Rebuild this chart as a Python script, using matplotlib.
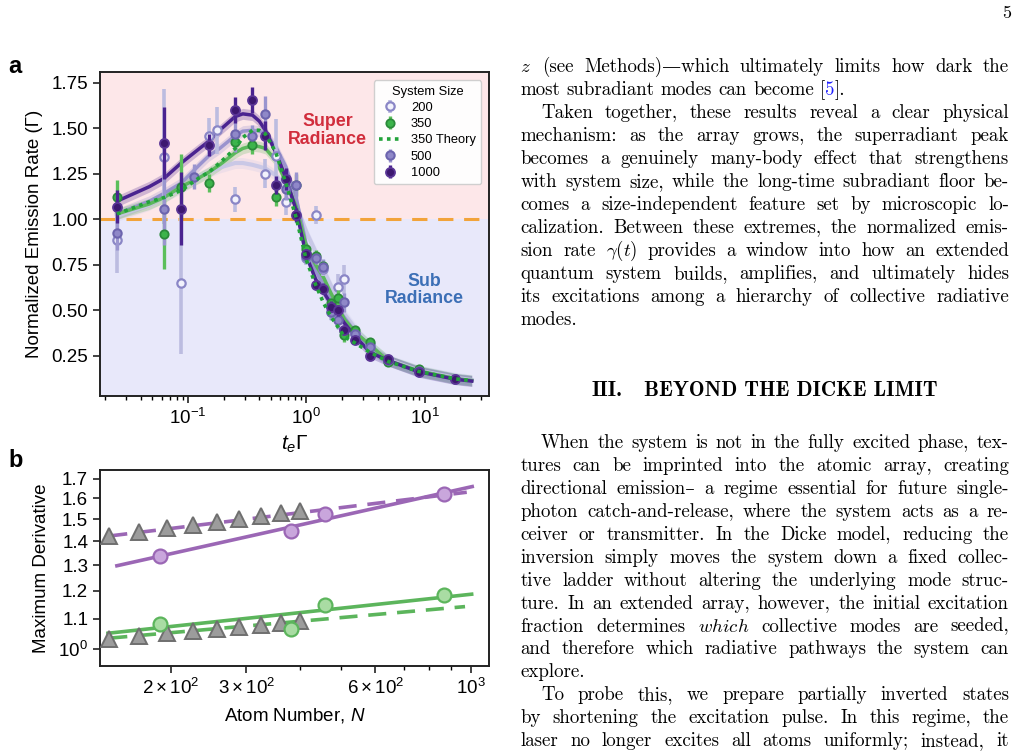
import re
import numpy as np
import matplotlib
matplotlib.use('Agg')
import matplotlib.pyplot as plt
from matplotlib.ticker import FixedLocator, FixedFormatter, NullLocator, NullFormatter

plt.rcParams['font.family'] = ['Liberation Sans', 'DejaVu Sans']
plt.rcParams['mathtext.fontset'] = 'custom'
plt.rcParams['mathtext.rm'] = 'Liberation Sans'
plt.rcParams['mathtext.it'] = 'Liberation Sans:italic'
plt.rcParams['mathtext.bf'] = 'Liberation Sans:bold'

W, H = 1016, 755

# ---------------- panel a data ----------------
t_200 = [0.025, 0.0625, 0.0875, 0.15, 0.175, 0.25, 0.45, 0.55, 0.67, 1.0, 1.2, 1.38,
         1.62, 1.86, 2.1, 2.6, 3.45, 4.9, 8.9]
v_200 = [0.885, 1.345, 0.65, 1.46, 1.49, 1.11, 1.25, 1.35, 1.095, 0.79, 1.024, 0.73,
         0.49, 0.63, 0.672, 0.377, 0.318, 0.225, 0.17]
e_200 = [0.18, 0.37, 0.39, 0.10, 0.13, 0.07, 0.08, 0.2, 0.07, 0.04, 0.05, 0.04,
         0.04, 0.07, 0.08, 0.03, 0.03, 0.01, 0.01]

t_350 = [0.025, 0.0625, 0.0875, 0.15, 0.25, 0.35, 0.55, 0.82, 1.0, 1.2, 1.38, 1.62,
         1.86, 2.1, 2.6, 3.45, 4.9, 8.9]
v_350 = [1.125, 0.92, 1.18, 1.20, 1.425, 1.41, 1.125, 1.19, 0.84, 0.80, 0.745, 0.54,
         0.57, 0.365, 0.39, 0.327, 0.218, 0.176]
e_350 = [0.09, 0.19, 0.18, 0.05, 0.05, 0.05, 0.05, 0.06, 0.03, 0.03, 0.03, 0.03,
         0.04, 0.04, 0.02, 0.02, 0.01, 0.01]

t_500 = [0.025, 0.0625, 0.112, 0.25, 0.35, 0.45, 0.67, 0.82, 1.0, 1.2, 1.38, 1.62,
         1.86, 2.1, 2.6, 3.45, 4.9, 8.9, 18.2]
v_500 = [0.923, 1.06, 1.235, 1.47, 1.46, 1.58, 1.165, 1.19, 0.80, 0.786, 0.74, 0.49,
         0.45, 0.544, 0.37, 0.30, 0.228, 0.168, 0.125]
e_500 = [0.09, 0.2, 0.07, 0.1, 0.06, 0.1, 0.06, 0.07, 0.03, 0.03, 0.04, 0.04,
         0.05, 0.05, 0.02, 0.02, 0.01, 0.01, 0.01]

t_1000 = [0.025, 0.0625, 0.0875, 0.15, 0.25, 0.35, 0.45, 0.55, 0.67, 0.82, 1.0, 1.2,
          1.38, 1.62, 1.86, 2.1, 2.6, 3.45, 4.9, 8.9, 18.2]
v_1000 = [1.07, 1.42, 1.06, 1.41, 1.60, 1.655, 1.46, 1.19, 1.22, 1.025, 0.81, 0.64,
          0.62, 0.52, 0.50, 0.395, 0.337, 0.25, 0.236, 0.163, 0.122]
e_1000 = [0.09, 0.2, 0.2, 0.06, 0.07, 0.07, 0.08, 0.05, 0.06, 0.04, 0.03, 0.03,
          0.03, 0.03, 0.03, 0.02, 0.02, 0.01, 0.01, 0.01, 0.01]

# fitted curves
fit_t = [0.025, 0.047, 0.0625, 0.0875, 0.125, 0.15, 0.185, 0.25, 0.29, 0.35, 0.40, 0.45,
         0.55, 0.67, 0.82, 1.0, 1.2, 1.4, 1.6, 2.1, 2.6, 3.45, 4.9, 8.9, 18.2, 25]
fit_1000 = [1.10, 1.18, 1.225, 1.31, 1.39, 1.43, 1.49, 1.565, 1.58, 1.573, 1.54, 1.49,
            1.37, 1.23, 1.05, 0.80, 0.67, 0.60, 0.54, 0.43, 0.355, 0.27, 0.225, 0.163, 0.122, 0.112]
fit_500 = [1.03, 1.10, 1.143, 1.20, 1.30, 1.35, 1.39, 1.46, 1.485, 1.49, 1.485, 1.47,
           1.40, 1.29, 1.12, 0.86, 0.72, 0.64, 0.57, 0.46, 0.38, 0.29, 0.225, 0.165, 0.125, 0.115]
fit_200 = [1.02, 1.08, 1.124, 1.17, 1.235, 1.26, 1.285, 1.31, 1.31, 1.30, 1.29, 1.28,
           1.243, 1.18, 1.08, 0.93, 0.82, 0.72, 0.64, 0.48, 0.40, 0.30, 0.23, 0.17, 0.13, 0.118]
fit_350 = [1.03, 1.085, 1.12, 1.18, 1.23, 1.26, 1.30, 1.366, 1.39, 1.405, 1.40, 1.39,
           1.326, 1.21, 1.07, 0.85, 0.75, 0.68, 0.60, 0.45, 0.38, 0.31, 0.225, 0.168, 0.125, 0.115]
theory_350 = [1.03, 1.097, 1.12, 1.16, 1.23, 1.26, 1.31, 1.39, 1.45, 1.49, 1.49, 1.47,
              1.37, 1.20, 1.01, 0.776, 0.64, 0.54, 0.47, 0.355, 0.32, 0.27, 0.22, 0.165, 0.124, 0.114]
band_hw = 0.03

# ---------------- panel b data ----------------
N_meas = [189, 381, 459, 867]
purple_meas = [1.335, 1.446, 1.523, 1.62]
green_meas = [1.081, 1.064, 1.146, 1.184]
N_sim = [144, 169, 196, 225, 256, 289, 324, 361, 400]
purple_sim = [1.423, 1.442, 1.458, 1.473, 1.488, 1.501, 1.516, 1.528, 1.54]
green_sim = [1.033, 1.042, 1.051, 1.059, 1.064, 1.071, 1.079, 1.084, 1.092]
N_fit_solid_p = [150, 1008]
purple_fit_solid = [1.297, 1.66]
N_fit_dash_p = [144, 979]
purple_fit_dash = [1.423, 1.631]
N_fit_solid_g = [143, 1005]
green_fit_solid = [1.051, 1.187]
N_fit_dash_g = [144, 970]
green_fit_dash = [1.035, 1.142]

fig = plt.figure(figsize=(W / 100, H / 100), dpi=100)


def px_axes(l, t, r, b):
    return fig.add_axes([l / W, 1 - b / H, (r - l) / W, (b - t) / H])


# ================= panel a =================
ax = px_axes(100, 72, 489, 396)
ax.set_xscale('log')
ax.set_xlim(0.018, 35)
ax.set_ylim(0.03, 1.81)
ax.axhspan(1.0, 1.81, color='#fde7e9', zorder=0, lw=0)
ax.axhspan(0.03, 1.0, color='#e8e8fa', zorder=0, lw=0)
ax.axhline(1.0, color='#f2a33a', lw=2.2, dashes=(5, 3.5), zorder=1.5)

c200, c500, c1000 = '#c6c6e6', '#928dcc', '#4a2390'
c350 = '#5bb85c'

for vals, col, lw, a in [(fit_200, c200, 3, 0.9), (fit_500, c500, 2.5, 0.9),
                         (fit_350, c350, 2.5, 1.0), (fit_1000, c1000, 2.5, 1.0)]:
    v = np.array(vals)
    ax.fill_between(fit_t, v - band_hw, v + band_hw, color=col, alpha=0.25, lw=0, zorder=2)
    ax.plot(fit_t, v, color=col, lw=lw, alpha=a, zorder=2.2)

h200 = ax.errorbar(t_200, v_200, yerr=e_200, fmt='o', ms=6, mfc='#f2f2fc', mec='#8a86c6',
                   mew=1.6, ecolor='#bcbce0', elinewidth=2.6, capsize=0, zorder=3)
h350 = ax.errorbar(t_350, v_350, yerr=e_350, fmt='o', ms=6, mfc='#3cb44b', mec='#2b8a3a',
                   mew=1.3, ecolor='#5bbf5b', elinewidth=2.4, capsize=0, zorder=3.2)
h500 = ax.errorbar(t_500, v_500, yerr=e_500, fmt='o', ms=6, mfc='#8f88c8', mec='#6c64ae',
                   mew=1.5, ecolor='#9a95cf', elinewidth=2.4, capsize=0, zorder=3.3)
h1000 = ax.errorbar(t_1000, v_1000, yerr=e_1000, fmt='o', ms=6.5, mfc='#3d1870', mec='#5a3596',
                    mew=1.3, ecolor='#4a2390', elinewidth=2.4, capsize=0, zorder=3.4)
hth, = ax.plot(fit_t, theory_350, color='#22a33a', lw=2.6, ls=(0, (1, 1.2)), zorder=3.5)

ax.text(0.585, 0.819, 'Super\nRadiance', transform=ax.transAxes, ha='center', va='center',
        color='#d12d3c', fontsize=12.8, fontweight='bold', linespacing=1.05)
ax.text(0.835, 0.327, 'Sub\nRadiance', transform=ax.transAxes, ha='center', va='center',
        color='#3c6fb6', fontsize=12.8, fontweight='bold', linespacing=1.05)

leg = ax.legend([h200, h350, hth, h500, h1000], ['200', '350', '350 Theory', '500', '1000'],
                title='System Size', loc='upper right', bbox_to_anchor=(0.997, 0.995),
                fontsize=9.3, title_fontsize=9.3, labelspacing=0.33, handlelength=1.6,
                handletextpad=0.85, borderpad=0.42, framealpha=0.92, edgecolor='#cccccc')
leg.set_zorder(5)

ax.set_yticks([0.25, 0.5, 0.75, 1.0, 1.25, 1.5, 1.75])
ax.set_yticklabels(['0.25', '0.50', '0.75', '1.00', '1.25', '1.50', '1.75'])
ax.tick_params(labelsize=13.5, length=5, width=1.2, colors='#222222', labelcolor='black')
ax.tick_params(which='minor', length=3, width=1)
for s in ax.spines.values():
    s.set_linewidth(1.4)
    s.set_color('#222222')
ax.set_ylabel('Normalized Emission Rate (Γ)', fontsize=13.5, labelpad=6)
ax.set_xlabel(r'$t_e\Gamma$', fontsize=15, labelpad=4)

# ================= panel b =================
bx = px_axes(100, 470, 489, 666)
bx.set_xscale('log')
bx.set_yscale('log')
bx.set_xlim(137, 1103)
bx.set_ylim(0.949, 1.748)
purple, green = '#9b67b5', '#5cb55c'
bx.plot(N_fit_dash_p, purple_fit_dash, color=purple, lw=2.6, dashes=(5, 3), zorder=2)
bx.plot(N_fit_solid_p, purple_fit_solid, color=purple, lw=2.6, zorder=2)
bx.plot(N_fit_dash_g, green_fit_dash, color=green, lw=2.6, dashes=(5, 3), zorder=2)
bx.plot(N_fit_solid_g, green_fit_solid, color=green, lw=2.6, zorder=2)
bx.plot(N_sim, purple_sim, '^', ms=11, mfc='#9c9c9c', mec='#6f6f6f', mew=1.4, zorder=3)
bx.plot(N_sim, green_sim, '^', ms=11, mfc='#9c9c9c', mec='#6f6f6f', mew=1.4, zorder=3)
bx.plot(N_meas, purple_meas, 'o', ms=10, mfc='#c9a6dc', mec=purple, mew=1.6, zorder=4)
bx.plot(N_meas, green_meas, 'o', ms=10, mfc='#a9dca3', mec=green, mew=1.6, zorder=4)

bx.xaxis.set_major_locator(FixedLocator([200, 300, 600, 1000]))
bx.xaxis.set_major_formatter(FixedFormatter([r'$2\times10^2$', r'$3\times10^2$',
                                             r'$6\times10^2$', r'$10^3$']))
bx.xaxis.set_minor_locator(FixedLocator([400, 500, 700, 800, 900]))
bx.xaxis.set_minor_formatter(NullFormatter())
bx.yaxis.set_major_locator(FixedLocator([1.0, 1.1, 1.2, 1.3, 1.4, 1.5, 1.6, 1.7]))
bx.yaxis.set_major_formatter(FixedFormatter([r'$10^0$', '1.1', '1.2', '1.3', '1.4',
                                             '1.5', '1.6', '1.7']))
bx.yaxis.set_minor_locator(NullLocator())
bx.tick_params(labelsize=13.5, length=5, width=1.2, colors='#222222', labelcolor='black')
bx.tick_params(which='minor', length=3, width=1)
for s in bx.spines.values():
    s.set_linewidth(1.4)
    s.set_color('#222222')
bx.set_ylabel('Maximum Derivative', fontsize=13.5, labelpad=6)
bx.set_xlabel(r'Atom Number, $N$', fontsize=13.5, labelpad=6)

fig.text(8 / W, 1 - 73 / H, 'a', fontsize=17, fontweight='bold')
fig.text(8 / W, 1 - 467 / H, 'b', fontsize=17, fontweight='bold')

# ================= right column text =================
serif = ['cmr10', 'DejaVu Serif']
body_size = 13.6
left_x, right_x, indent = 520.5, 1009.0, 20.5
renderer = fig.canvas.get_renderer()

para_top = [
    ('z', False, r'$z$ (see Methods)—which ultimately limits how dark the'),
    ('', True, 'most subradiant modes can become [<5>].'),
    ('i', False, 'Taken together, these results reveal a clear physical'),
    ('', False, 'mechanism: as the array grows, the superradiant peak'),
    ('', False, 'becomes a genuinely many-body effect that strengthens'),
    ('', False, 'with system size, while the long-time subradiant floor be-'),
    ('', False, 'comes a size-independent feature set by microscopic lo-'),
    ('', False, 'calization. Between these extremes, the normalized emis-'),
    ('', False, r'sion rate $\gamma(t)$ provides a window into how an extended'),
    ('', False, 'quantum system builds, amplifies, and ultimately hides'),
    ('', False, 'its excitations among a hierarchy of collective radiative'),
    ('', True, 'modes.'),
]
para_bottom = [
    ('i', False, 'When the system is not in the fully excited phase, tex-'),
    ('', False, 'tures can be imprinted into the atomic array, creating'),
    ('', False, 'directional emission– a regime essential for future single-'),
    ('', False, 'photon catch-and-release, where the system acts as a re-'),
    ('', False, 'ceiver or transmitter. In the Dicke model, reducing the'),
    ('', False, 'inversion simply moves the system down a fixed collec-'),
    ('', False, 'tive ladder without altering the underlying mode struc-'),
    ('', False, 'ture. In an extended array, however, the initial excitation'),
    ('', False, r'fraction determines $\mathit{which}$ collective modes are seeded,'),
    ('', False, 'and therefore which radiative pathways the system can'),
    ('', True, 'explore.'),
    ('i', False, 'To probe this, we prepare partially inverted states'),
    ('', False, 'by shortening the excitation pulse. In this regime, the'),
    ('', False, 'laser no longer excites all atoms uniformly; instead, it'),
]


def make_word(word):
    parts = [p for p in re.split(r'(<[^>]*>)', word) if p]
    objs = []
    for p in parts:
        col = 'black'
        if p.startswith('<'):
            p, col = p[1:-1], '#1f1fff'
        t = fig.text(0, 0, p, fontsize=body_size, family=serif, color=col,
                     math_fontfamily='cm', va='baseline', ha='left')
        objs.append((t, t.get_window_extent(renderer).width))
    return objs


def place_line(text, base_y, x0, last):
    words = [make_word(w) for w in text.split(' ')]
    widths = [sum(w for _, w in wd) for wd in words]
    if last or len(words) < 2:
        gap = body_size * 100 / 72 * 0.333
    else:
        gap = (right_x - x0 - sum(widths)) / (len(words) - 1)
    x = x0
    for wd, ww in zip(words, widths):
        xx = x
        for t, w in wd:
            t.set_position((xx / W, 1 - base_y / H))
            xx += w
        x += ww + gap


for i, (flag, last, line) in enumerate(para_top):
    x0 = left_x + (indent if flag == 'i' else 0)
    place_line(line, 72 + 23 * i, x0, last)

for i, (flag, last, line) in enumerate(para_bottom):
    x0 = left_x + (indent if flag == 'i' else 0)
    place_line(line, 448.4 + 22.9 * i, x0, last)

# section heading
hd1 = fig.text(592 / W, 1 - 396 / H, 'III.', fontsize=12, family=['cmb10', 'DejaVu Serif'],
               va='baseline', ha='left')
hd2 = fig.text(644 / W, 1 - 396 / H, 'BEYOND THE DICKE LIMIT', fontsize=12,
               family=['cmb10', 'DejaVu Serif'], va='baseline', ha='left')
w2 = hd2.get_window_extent(renderer).width
hd1.set_fontsize(12 * 293 / w2)
hd2.set_fontsize(12 * 293 / w2)

fig.text(1002 / W, 1 - 18 / H, '5', fontsize=13, family=serif, va='baseline', ha='left')

fig.savefig('out.png', dpi=100)
